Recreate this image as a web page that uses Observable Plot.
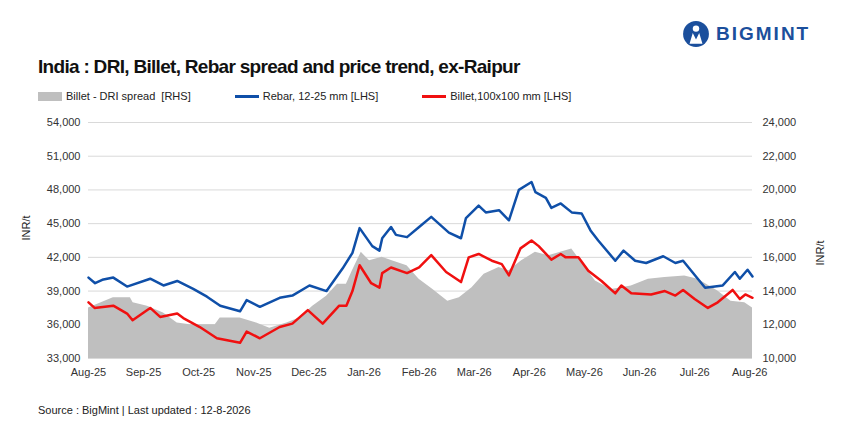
<!DOCTYPE html>
<html><head><meta charset="utf-8">
<script src="https://cdn.jsdelivr.net/npm/d3@7"></script>
<script src="https://cdn.jsdelivr.net/npm/@observablehq/plot@0.6"></script>
<style>
body{margin:0;background:#fff;font-family:"Liberation Sans",Arial,sans-serif;}
#wrap{position:relative;width:859px;height:432px;}
.abs{position:absolute;white-space:nowrap;}
#title{left:38px;top:56px;font-size:19px;font-weight:bold;letter-spacing:-0.7px;color:#111;}
#legend{left:38px;top:90px;font-size:11px;color:#222;display:flex;gap:0;}
.li{display:flex;align-items:center;margin-right:44px;}
.sw{display:inline-block;width:24px;margin-right:4px;}
#src{left:38px;top:404px;font-size:11px;color:#222;}
#logo{left:682px;top:20px;font-size:19px;font-weight:bold;color:#1b4f9c;letter-spacing:2px;display:flex;align-items:center;}
</style></head><body>
<div id="wrap">
<div id="chart" class="abs" style="left:0;top:0"></div>
<div id="title" class="abs">India : DRI, Billet, Rebar spread and price trend, ex-Raipur</div>
<div id="legend" class="abs">
 <span class="li"><span class="sw" style="height:9px;background:#bfbfbf"></span>Billet - DRI spread&nbsp; [RHS]</span>
 <span class="li"><span class="sw" style="height:3px;background:#0f4fa8"></span>Rebar, 12-25 mm [LHS]</span>
 <span class="li"><span class="sw" style="height:3px;background:#f01010"></span>Billet,100x100 mm [LHS]</span>
</div>
<div id="logo" class="abs"><svg width="28" height="28" viewBox="0 0 26 26" style="margin-right:6px"><circle cx="13" cy="13" r="12" fill="#1b4f9c"/><circle cx="13" cy="8" r="3" fill="#fff"/><path d="M7 22 L10 12 L13 18 L16 12 L19 22 Z" fill="#fff"/></svg>BIGMINT</div>
<div id="src" class="abs">Source : BigMint | Last updated : 12-8-2026</div>
</div>
<script>
const monthLabels=["Aug-25","Sep-25","Oct-25","Nov-25","Dec-25","Jan-26","Feb-26","Mar-26","Apr-26","May-26","Jun-26","Jul-26","Aug-26"];
const rebarX=[0,0.12,0.25,0.45,0.70,1.12,1.36,1.61,1.90,2.15,2.39,2.75,2.87,3.11,3.47,3.70,4.01,4.32,4.61,4.79,4.92,5.15,5.28,5.33,5.49,5.58,5.78,6.00,6.22,6.54,6.76,6.85,7.08,7.21,7.45,7.63,7.81,8.04,8.11,8.30,8.40,8.57,8.77,8.95,9.11,9.25,9.56,9.71,9.92,10.12,10.43,10.65,10.79,11.19,11.51,11.73,11.82,11.96,12.05];
const rebarY=[40200,39700,40000,40200,39400,40100,39500,39900,39200,38500,37700,37200,38200,37600,38400,38600,39500,39000,41000,42400,44600,43000,42600,43700,44700,44000,43800,44700,45600,44200,43700,45500,46600,46000,46200,45300,48000,48700,47800,47300,46400,46800,46000,45900,44400,43500,41700,42600,41700,41500,42100,41500,41700,39300,39500,40700,40100,40900,40300];
const billetX=[0,0.11,0.45,0.70,0.80,1.12,1.30,1.61,1.72,2.02,2.33,2.75,2.87,3.11,3.47,3.70,3.98,4.25,4.55,4.68,4.79,4.92,5.13,5.28,5.33,5.49,5.78,6.00,6.22,6.49,6.76,6.90,7.08,7.32,7.50,7.63,7.84,8.04,8.17,8.40,8.57,8.66,8.89,9.07,9.31,9.56,9.67,9.85,10.21,10.46,10.65,10.79,11.00,11.24,11.42,11.69,11.82,11.92,12.05];
const billetY=[38000,37500,37700,37000,36400,37500,36700,37000,36600,35800,34800,34400,35400,34800,35800,36100,37300,36100,37700,37700,39000,41300,39700,39300,40600,41100,40600,41100,42200,40700,39800,42000,42300,41700,41400,40400,42800,43500,43000,41800,42300,42000,42000,40800,39900,38800,39500,38800,38700,39000,38600,39100,38300,37500,38000,39100,38300,38700,38400];
const spreadX=[0,0.45,0.76,0.81,1.07,1.36,1.61,1.84,2.08,2.30,2.39,2.75,3.05,3.29,3.60,3.83,4.07,4.32,4.52,4.68,4.79,4.95,5.10,5.33,5.51,5.78,6.00,6.25,6.52,6.73,6.96,7.18,7.45,7.63,7.86,8.11,8.35,8.77,8.95,9.20,9.49,9.85,10.16,10.46,10.82,11.06,11.42,11.66,11.91,12.05];
const spreadY=[13000,13600,13600,13300,13100,12700,12100,12000,12000,12000,12400,12400,12100,11800,12100,12400,13100,13700,14400,14400,15200,16300,15800,16000,15800,15500,14700,14100,13400,13600,14200,15000,15400,15200,15800,16300,16100,16500,15700,14600,14100,14300,14700,14800,14900,14700,14000,13400,13300,13000];
const leftTicks=[33000,36000,39000,42000,45000,48000,51000,54000];
const rightTicks=[10000,12000,14000,16000,18000,20000,22000,24000];
const toLeft=r=>33000+(r-10000)*1.5;
const rebar=rebarX.map((x,i)=>({x,y:rebarY[i]}));
const billet=billetX.map((x,i)=>({x,y:billetY[i]}));
const spread=spreadX.map((x,i)=>({x,y:toLeft(spreadY[i])}));
const fmt=d3.format(",");
const chart=Plot.plot({
 width:859,height:432,marginTop:122,marginBottom:74,marginLeft:88,marginRight:107,
 style:{fontFamily:"Liberation Sans, Arial, sans-serif",fontSize:"11px",color:"#333",background:"transparent"},
 x:{domain:[0,12.05],label:null},
 y:{domain:[33000,54000],label:null},
 marks:[
  Plot.gridY(leftTicks,{stroke:"#d9d9d9",strokeOpacity:1}),
  Plot.areaY(spread,{x:"x",y1:33000,y2:"y",fill:"#bfbfbf"}),
  Plot.lineY(billet,{x:"x",y:"y",stroke:"#f01010",strokeWidth:2.5}),
  Plot.lineY(rebar,{x:"x",y:"y",stroke:"#0f4fa8",strokeWidth:2.5}),
  Plot.axisX({ticks:d3.range(13),tickFormat:i=>monthLabels[i],tickSize:0,tickPadding:10,label:null}),
  Plot.axisY({ticks:leftTicks,tickFormat:fmt,tickSize:0,tickPadding:8,label:null}),
  Plot.axisY({anchor:"right",ticks:rightTicks.map(toLeft),tickFormat:(d,i)=>fmt(rightTicks[i]),tickSize:0,tickPadding:10,label:null}),
  Plot.text(["INR/t"],{frameAnchor:"left",dx:-62,rotate:-90,fontSize:11,fill:"#222"}),
  Plot.text(["INR/t"],{frameAnchor:"right",dx:68,rotate:-90,fontSize:11,fill:"#222"})
 ]
});
document.getElementById("chart").appendChild(chart);
</script>
</body></html>
